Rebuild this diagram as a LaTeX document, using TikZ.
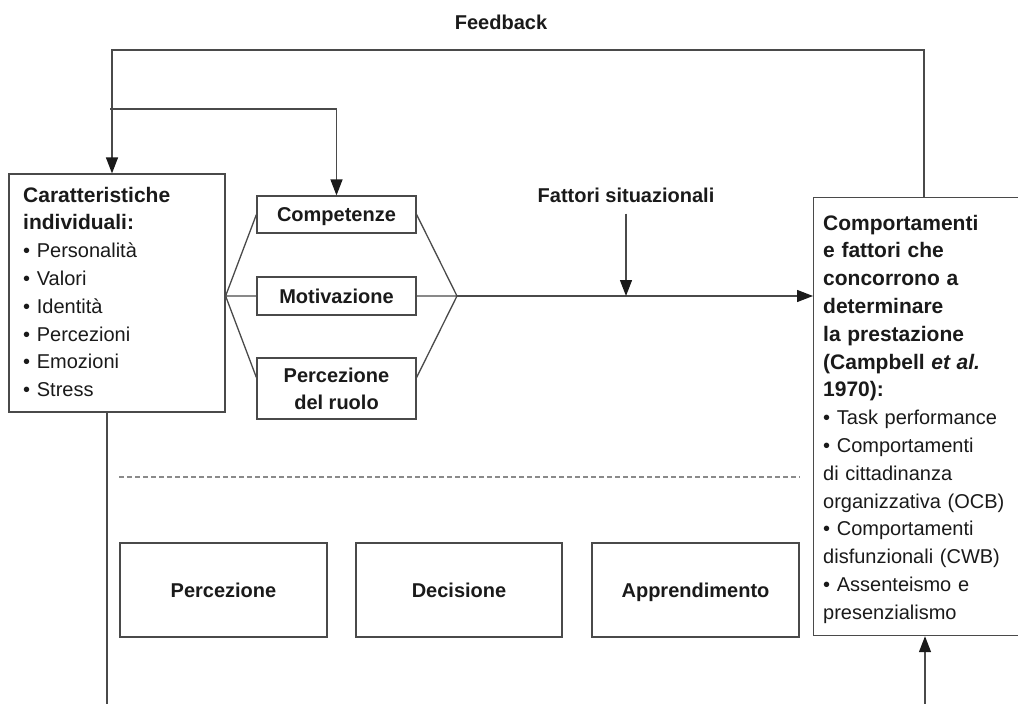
\documentclass[tikz,border=0pt]{standalone}
\usepackage{fontspec}
\setmainfont{Liberation Sans}
\usetikzlibrary{arrows.meta}
\definecolor{ink}{HTML}{1A1A1A}
\definecolor{rule}{HTML}{4A4A4A}
\definecolor{dashgray}{HTML}{8A8A8A}
% bold heading lines inside the two text blocks
\newcommand{\headline}[1]{{\bfseries\fontsize{21}{27.8}\selectfont #1}}
\begin{document}
\begin{tikzpicture}[x=1pt,y=-1pt,
  line/.style={draw=rule,line width=1.3pt},
  arrow/.style={line,-{Triangle[length=16pt,width=12pt,color=ink]}},
  frame/.style={draw=rule,line width=1.2pt,inner sep=0pt,text=ink,
    font=\bfseries\fontsize{20}{27}\selectfont,align=center},
  oneline/.style={text height=14.5pt,text depth=0pt},
  body/.style={text=ink,inner sep=0pt,align=left,
    font=\fontsize{20}{27.8}\selectfont},
  title/.style={text=ink,inner sep=3pt,font=\bfseries\fontsize{20}{24}\selectfont}
]
\useasboundingbox (0,0) rectangle (1018,704);
\fill[white] (0,0) rectangle (1018,704);
\clip (0,0) rectangle (1018,704);

% left block: individual characteristics
\node[frame,minimum width=216pt,minimum height=238pt] (lb) at (117,293) {};
\node[body,anchor=base west,text width=198pt] (lbtext) at (23,202)
  {\headline{Caratteristiche}\\
   \headline{individuali:}\\
   • Personalità\\
   • Valori\\
   • Identità\\
   • Percezioni\\
   • Emozioni\\
   • Stress};

% middle column
\node[frame,oneline,minimum width=159pt,minimum height=37pt] (comp) at (336.5,214.5) {Competenze};
\node[frame,oneline,minimum width=159pt,minimum height=38pt] (mot) at (336.5,296) {Motivazione};
\node[frame,minimum width=159pt,minimum height=61pt] (role) at (336.5,388.5) {Percezione\\del ruolo};

% right block: performance behaviours
\node[draw=rule,line width=1.2pt,inner sep=0pt,anchor=north west,
      minimum width=260pt,minimum height=438pt] (rb) at (813,197) {};
\node[body,anchor=base west,text width=195pt] (rbtext) at (823,230)
  {\headline{Comportamenti}\\
   \headline{e fattori che}\\
   \headline{concorrono a}\\
   \headline{determinare}\\
   \headline{la prestazione}\\
   \headline{(Campbell \textit{et al.}}\\
   \headline{1970):}\\
   • Task performance\\
   • Comportamenti\\
   di cittadinanza\\
   organizzativa (OCB)\\
   • Comportamenti\\
   disfunzionali (CWB)\\
   • Assenteismo e\\
   presenzialismo};

% lower row of processes
\node[frame,oneline,minimum width=207pt,minimum height=94pt] (perc) at (223.5,590) {Percezione};
\node[frame,oneline,minimum width=206pt,minimum height=94pt] (dec) at (459,590) {Decisione};
\node[frame,oneline,minimum width=207pt,minimum height=94pt] (learn) at (695.5,590) {Apprendimento};

% labels
\node[title] (fb) at (501,22) {Feedback};
\node[title] (fattori) at (626,195) {Fattori situazionali};

% fan-in / fan-out through the middle column
\coordinate (L) at (lb.east |- mot.west);
\coordinate (J) at (457,296);
\draw[line] (L) -- (comp.west)
            (L) -- (mot.west)
            (L) -- ([yshift=11pt]role.west);
\draw[line] (comp.east) -- (J)
            (mot.east) -- (J)
            ([yshift=11pt]role.east) -- (J);
\draw[arrow] (J) -- (J -| rb.west);
\draw[arrow] ([yshift=-8pt]fattori.south) -- (fattori.south |- J);

% feedback loop
\coordinate (fbR) at (924,50);
\coordinate (fbL) at (112,50);
\coordinate (fbB) at (110,109);
\draw[arrow] (rb.north -| fbR) -- (fbR) -- (fbL) -- (fbL |- lb.north);
\draw[arrow] (fbB) -| (comp.north);

% open ends at the bottom
\coordinate (lbOut) at (107,704);
\coordinate (rbIn) at (925,704);
\draw[line] (lbOut |- lb.south) -- (lbOut);
\draw[arrow] (rbIn) -- (rbIn |- rb.south);

% divider
\coordinate (dA) at (119,477);
\coordinate (dB) at (800,477);
\draw[draw=dashgray,line width=1.2pt,dash pattern=on 5pt off 3pt] (dA) -- (dB);
\end{tikzpicture}
\end{document}
